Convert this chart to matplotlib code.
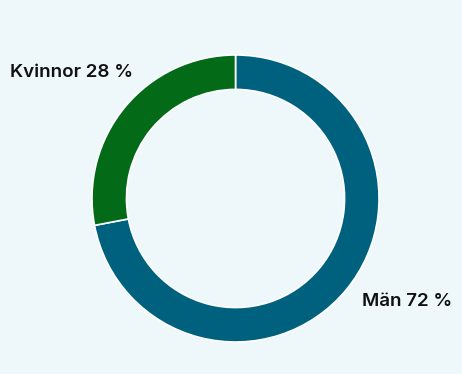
import matplotlib.pyplot as plt

labels = ["Män", "Kvinnor"]
shares = [72, 28]
colors = ["#00617f", "#036a17"]
bg = "#eef8fb"

fig = plt.figure(figsize=(4.62, 3.74), dpi=100, facecolor=bg)
ax = fig.add_axes([0, 0, 1, 1])
ax.set_facecolor(bg)

ax.pie(shares, colors=colors, startangle=90, counterclock=False, radius=1,
       wedgeprops=dict(width=0.24, edgecolor="white", linewidth=1.2))

ax.set_xlim(-1.641, 1.578)
ax.set_ylim(-1.223, 1.383)
ax.set_aspect("auto")
ax.axis("off")

font = dict(family=["Inter", "DejaVu Sans"], fontsize=13.5, fontweight="semibold", color="#111111")
ax.text(-1.571, 0.881, f"{labels[1]} {shares[1]} %", ha="left", va="center", **font)
ax.text(0.881, -0.721, f"{labels[0]} {shares[0]} %", ha="left", va="center", **font)

fig.savefig("out.png", dpi=100, facecolor=bg)
